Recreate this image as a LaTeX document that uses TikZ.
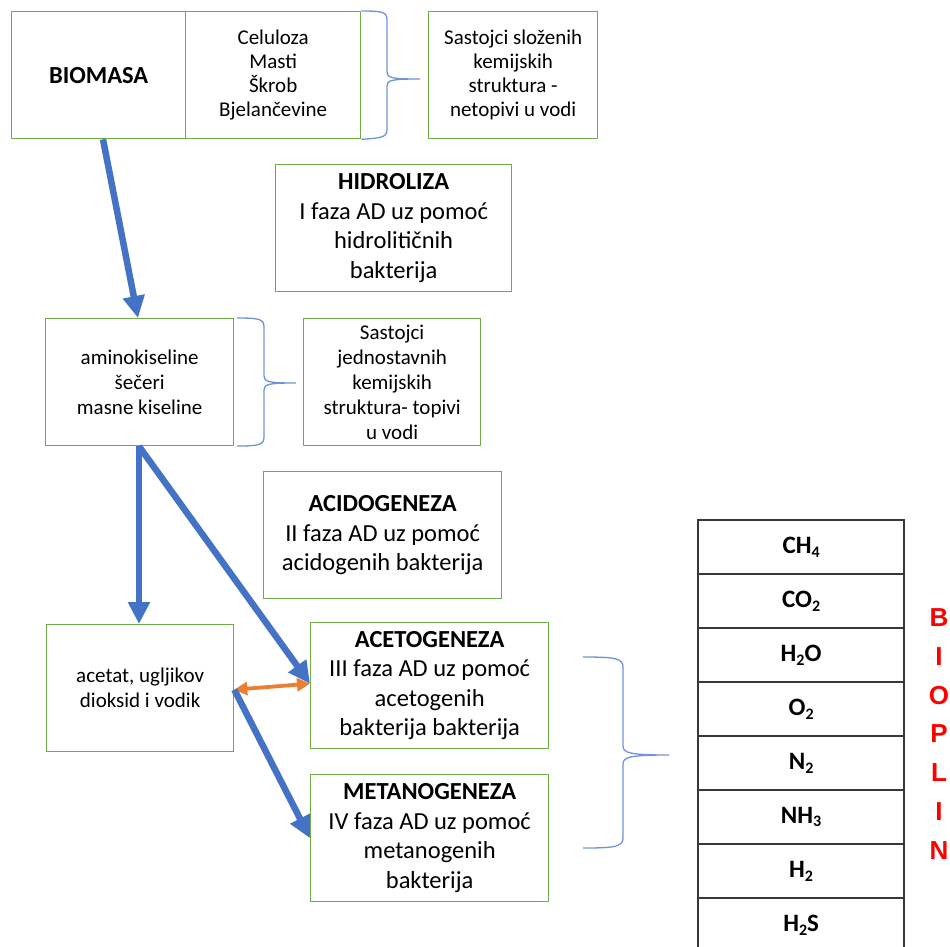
\documentclass[tikz,border=0pt]{standalone}
\usepackage{fontspec}
\setmainfont{Carlito}
\newfontfamily\arialfont{Liberation Sans}
\usetikzlibrary{arrows.meta}
\definecolor{boxgreen}{HTML}{70AD47}
\definecolor{arrblue}{HTML}{4472C4}
\definecolor{arrorange}{HTML}{ED7D31}
\definecolor{braceblue}{HTML}{6F93D6}
\newcommand\chemsub[1]{\raisebox{-0.3ex}{\fontsize{16}{16}\selectfont #1}}
\begin{document}
\begin{tikzpicture}[x=1pt,y=-1pt,
 box/.style={draw=boxgreen, line width=1.3pt, anchor=north west, inner sep=2pt, align=center, font=\fontsize{21}{25}\selectfont},
 bigbox/.style={box, font=\fontsize{24.5}{29.5}\selectfont},
 cell/.style={draw=black!78, line width=2.2pt, anchor=north west, minimum width=206pt, minimum height=54pt, font=\bfseries\fontsize{25}{28}\selectfont},
 flow/.style={draw=arrblue, line width=6.5pt, -{Triangle[width=21pt,length=22pt]}},
 dual/.style={draw=arrorange, line width=3.8pt, {Triangle[width=13pt,length=13pt]}-{Triangle[width=13pt,length=13pt]}},
 brace/.style={draw=braceblue, line width=1.3pt}]
\useasboundingbox (0,0) rectangle (950,946);

\node[box, minimum width=174pt, minimum height=127pt, font=\bfseries\fontsize{24.5}{29.5}\selectfont] (bio) at (11,11) {BIOMASA};
\node[box, minimum width=175pt, minimum height=127pt, font=\fontsize{21}{24}\selectfont] (comp) at (185,11) {Celuloza\\Masti\\Škrob\\Bjelančevine};
\node[box, minimum width=169pt, minimum height=127pt, font=\fontsize{21}{24}\selectfont] (slozeni) at (428,11) {Sastojci složenih\\kemijskih\\struktura -\\netopivi u vodi};
\node[bigbox, minimum width=236pt, minimum height=127pt] (hidro) at (275,164) {\textbf{HIDROLIZA}\\I faza AD uz pomoć\\hidrolitičnih\\bakterija};

\node[box, minimum width=188pt, minimum height=127pt] (amino) at (45,318) {aminokiseline\\šečeri\\masne kiseline};
\node[box, minimum width=177pt, minimum height=127pt] (jedno) at (303,318) {Sastojci\\jednostavnih\\kemijskih\\struktura- topivi\\u vodi};
\node[bigbox, minimum width=238pt, minimum height=127pt] (acido) at (263,471) {\textbf{ACIDOGENEZA}\\II faza AD uz pomoć\\acidogenih bakterija};

\node[box, minimum width=187pt, minimum height=127pt] (acetat) at (46,624) {acetat, ugljikov\\dioksid i vodik};
\node[bigbox, minimum width=238pt, minimum height=126pt] (aceto) at (310,622) {\textbf{ACETOGENEZA}\\III faza AD uz pomoć\\acetogenih\\bakterija bakterija};
\node[bigbox, minimum width=238pt, minimum height=127pt] (meta) at (310,774) {\textbf{METANOGENEZA}\\IV faza AD uz pomoć\\metanogenih\\bakterija};

\node[cell] (t1) at (697,519) {CH\chemsub{4}};
\node[cell] (t2) at (697,573) {CO\chemsub{2}};
\node[cell] (t3) at (697,627) {H\chemsub{2}O};
\node[cell] (t4) at (697,681) {O\chemsub{2}};
\node[cell] (t5) at (697,735) {N\chemsub{2}};
\node[cell] (t6) at (697,789) {NH\chemsub{3}};
\node[cell] (t7) at (697,843) {H\chemsub{2}};
\node[cell] (t8) at (697,897) {H\chemsub{2}S};

\node[font=\arialfont\bfseries\fontsize{26}{38.7}\selectfont, text=red, align=center] (bioplin) at (939,734) {B\\I\\O\\P\\L\\I\\N};

\draw[dual] ([yshift=-1.5pt]acetat.east) -- ([yshift=2pt]aceto.west);
\draw[flow] ([xshift=92pt]bio.south west) -- ([xshift=93pt]amino.north west);
\draw[flow] ([xshift=94pt]amino.south west) -- ([xshift=93pt]acetat.north west);
\draw[flow] ([xshift=94pt]amino.south west) -- ([yshift=2pt]aceto.west);
\draw[flow] ([yshift=-1.5pt]acetat.east) -- (meta.west);

\draw[brace] (comp.north east) .. controls (383,11) and (387,12) .. (387,20) -- (387,72) .. controls (387,78) and (392,79) .. (420,79) .. controls (392,79) and (387,80) .. (387,86) -- (387,129) .. controls (387,137) and (383,138) .. (comp.south east);
\draw[brace] (237,318) .. controls (259,318) and (264,319) .. (264,327) -- (264,376) .. controls (264,382) and (269,383) .. (296,383) .. controls (269,383) and (264,384) .. (264,390) -- (264,437) .. controls (264,445) and (259,446) .. (237,446);
\draw[brace] (583,657) .. controls (614,657) and (623,658) .. (623,667) -- (623,746) .. controls (623,753) and (630,755) .. (669,755) .. controls (630,755) and (623,757) .. (623,764) -- (623,838) .. controls (623,847) and (614,848) .. (583,848);
\end{tikzpicture}
\end{document}
